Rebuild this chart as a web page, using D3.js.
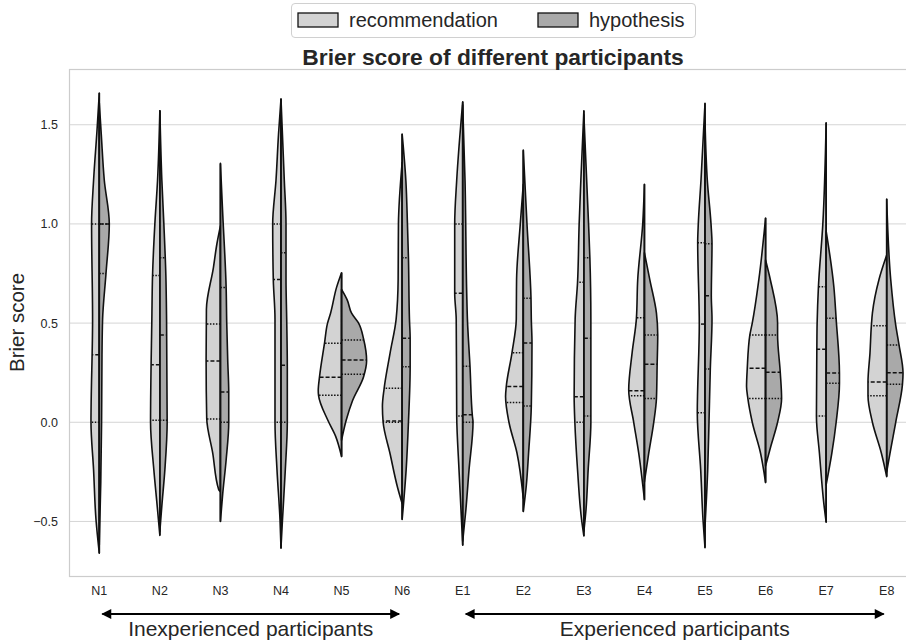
<!DOCTYPE html>
<html><head><meta charset="utf-8">
<script src="https://cdn.jsdelivr.net/npm/d3@7"></script>
<style>body{margin:0;background:#fff;} svg{display:block;font-family:"Liberation Sans",Arial,sans-serif;}</style>
</head><body>
<svg id="chart" width="906" height="641"></svg>
<script>
const categories = ["N1","N2","N3","N4","N5","N6","E1","E2","E3","E4","E5","E6","E7","E8"];
const seriesNames = ["recommendation","hypothesis"];
const seriesColors = ["#d3d3d3","#a9a9a9"];
const yTicks = [-0.5, 0.0, 0.5, 1.0, 1.5];

// density profiles: [score, density]
const recProfiles = [
  [[1.66,0],[1.47,2.3],[1.22,5.7],[1.0,7.7],[0.52,6.7],[0.0,8.3],[-0.24,5.7],[-0.49,3.3],[-0.66,0]],
  [[1.57,0],[1.22,2.3],[1.0,5],[0.74,7.3],[0.52,8],[0.0,9.3],[-0.24,6],[-0.42,2.7],[-0.57,0]],
  [[0.99,0],[0.9,3.5],[0.78,7],[0.57,14],[0.31,14.3],[0.02,13.7],[-0.155,7.7],[-0.34,1.7],[-0.35,0]],
  [[1.63,0],[1.45,2.5],[1.22,5],[1.0,8.3],[0.72,7.7],[0.52,6],[0.0,6],[-0.24,4],[-0.49,1],[-0.635,0]],
  [[0.754,0],[0.68,5],[0.55,11],[0.5,14],[0.4,17],[0.23,22],[0.16,23.3],[0.136,23],[0.01,13.7],[-0.07,6],[-0.173,0]],
  [[1.31,0],[1.0,3.7],[0.72,4],[0.52,6],[0.35,12],[0.17,18],[0.08,19.7],[0.0,19],[-0.16,12],[-0.33,4.5],[-0.41,0]],
  [[1.616,0],[1.22,6],[1.0,8],[0.65,8],[0.52,6.5],[0.03,6],[-0.24,3.7],[-0.62,0]],
  [[1.2,0],[1.0,3],[0.72,6.7],[0.52,7],[0.35,11.3],[0.18,17],[0.13,17.7],[0.0,14.3],[-0.155,6.3],[-0.383,0]],
  [[1.57,0],[1.22,3],[1.0,4.7],[0.706,6.3],[0.52,8.7],[0.13,9.7],[0.0,9],[-0.24,6.3],[-0.49,2.3],[-0.573,0]],
  [[1.2,0],[1.0,1.7],[0.72,6.7],[0.524,8],[0.35,12.3],[0.163,15.7],[0.0,10.7],[-0.156,5.7],[-0.39,0]],
  [[1.608,0],[1.22,4],[1.0,6.7],[0.905,7.3],[0.495,5.7],[0.048,7.7],[-0.24,4.3],[-0.49,2],[-0.632,0]],
  [[1.03,0],[0.72,6.7],[0.5,13.3],[0.44,15.7],[0.27,18.3],[0.18,19],[0.12,17.7],[0.0,13.3],[-0.156,5],[-0.304,0]],
  [[1.51,0],[1.0,3.3],[0.683,7.7],[0.5,9],[0.368,9.3],[0.032,9.7],[-0.156,6.7],[-0.41,2.3],[-0.504,0]],
  [[0.843,0],[0.72,7.7],[0.55,14.3],[0.49,15.3],[0.35,16.7],[0.203,18.7],[0.134,18.7],[0.0,14.3],[-0.156,5.3],[-0.274,0]]
];
const hypProfiles = [
  [[1.61,0],[1.45,2],[1.22,5],[1.0,10],[0.75,6.7],[0.52,3.3],[0.34,2.7],[0.0,2.3],[-0.3,1.5],[-0.62,0]],
  [[1.57,0],[1.22,2],[1.0,4],[0.74,6],[0.52,6.7],[0.0,7.3],[-0.24,5],[-0.42,2],[-0.55,0]],
  [[1.305,0],[1.05,2.3],[0.68,5.7],[0.5,6.3],[0.31,7.3],[0.15,8.3],[0.0,8.3],[-0.19,5.7],[-0.36,2.3],[-0.5,0]],
  [[1.63,0],[1.22,3.3],[1.0,5],[0.72,5],[0.52,5.7],[0.28,6.3],[0.0,6.3],[-0.24,4.3],[-0.49,1.5],[-0.63,0]],
  [[0.67,0],[0.616,5.7],[0.55,10],[0.5,17],[0.42,22],[0.31,25],[0.23,22],[0.11,11],[0.01,4.6],[-0.09,0]],
  [[1.453,0],[1.22,3.7],[1.0,5.3],[0.83,6.3],[0.52,7.3],[0.42,8],[0.28,8],[0.0,6.3],[-0.24,4],[-0.49,0]],
  [[1.6,0],[1.22,2.3],[0.65,4],[0.52,4.7],[0.28,7.3],[0.03,9.7],[0.0,10.3],[-0.24,6.3],[-0.45,3],[-0.6,0]],
  [[1.372,0],[1.0,3.7],[0.625,7.7],[0.52,8],[0.4,8.7],[0.08,8],[-0.155,5.3],[-0.32,3],[-0.45,0]],
  [[1.55,0],[1.0,4.7],[0.83,6],[0.52,7],[0.0,7],[-0.24,4.3],[-0.45,2],[-0.55,0]],
  [[0.855,0],[0.72,5.3],[0.55,12],[0.44,13.3],[0.29,12.7],[0.12,12],[0.0,9.3],[-0.156,4.3],[-0.3,0]],
  [[1.52,0],[1.22,2.3],[1.0,6],[0.9,7],[0.638,6.3],[0.52,7],[0.27,5.3],[0.0,4],[-0.24,2.7],[-0.526,0]],
  [[0.818,0],[0.72,4.7],[0.5,12],[0.44,12],[0.25,14.7],[0.12,16],[0.0,12],[-0.12,5.3],[-0.22,0]],
  [[0.964,0],[0.683,7.7],[0.52,10],[0.247,13.3],[0.197,13.3],[0.0,10],[-0.156,5.7],[-0.316,0]],
  [[1.125,0],[0.72,4],[0.49,9],[0.39,12.3],[0.247,16.3],[0.19,15.7],[0.0,9],[-0.156,3.3],[-0.25,0]]
];
// quartiles [q1, median, q3]
const recQuartiles = [[0,0.34,1.0],[0.01,0.29,0.74],[0.017,0.309,0.495],[0,0.72,1.0],[0.136,0.227,0.398],[0,0.006,0.171],[0.032,0.65,1.0],[0.1,0.18,0.35],[0,0.129,0.706],[0.134,0.159,0.527],[0.048,0.495,0.905],[0.12,0.272,0.44],[0.032,0.368,0.683],[0.134,0.203,0.487]];
const hypQuartiles = [[0.75,1.0,1.0],[0.01,0.44,0.83],[0,0.153,0.68],[0,0.287,0.855],[0.242,0.314,0.415],[0.28,0.423,0.83],[0,0.038,0.282],[0.082,0.4,0.625],[0.032,0.423,0.83],[0.12,0.292,0.44],[0.269,0.638,0.9],[0.12,0.252,0.44],[0.197,0.248,0.524],[0.192,0.25,0.39]];
const groups = [{label:"Inexperienced participants", from:0.05, to:4.95, mid:2.5},
                {label:"Experienced participants", from:6.05, to:12.95, mid:9.5}];

const svg = d3.select("#chart");
const L = 69, R = 917, T = 69, B = 576;
const x = d3.scaleBand().domain(categories).range([L, R]).paddingInner(0).paddingOuter(0);
const xi = d3.scaleLinear().domain([-0.5, categories.length - 0.5]).range([L, R]);
const y = d3.scaleLinear().domain([-0.775, 1.781]).range([B, T]);
const w = d3.scaleLinear().domain([0, 30]).range([0, 30 * x.bandwidth() / 60.5]);
const FONT = '"Liberation Sans",Arial,sans-serif';
const TXT = "#262626";

// grid
svg.append("g").selectAll("line").data(yTicks).join("line")
  .attr("x1", L).attr("x2", R).attr("y1", d => y(d)).attr("y2", d => y(d))
  .attr("stroke", "#d5d5d5").attr("stroke-width", 1);
// frame
svg.append("rect").attr("x", L + 0.5).attr("y", T + 0.5).attr("width", R - L).attr("height", B - T)
  .attr("fill", "none").attr("stroke", "#cccccc").attr("stroke-width", 1.2);

// axes labels
const yAxis = d3.axisLeft(y).tickValues(yTicks).tickSize(0).tickPadding(11)
  .tickFormat(d => d3.format(".1f")(d).replace("-", "\u2212"));
const gy = svg.append("g").attr("transform", `translate(${L},0)`).call(yAxis);
gy.select(".domain").remove();
gy.selectAll("text").attr("font-size", 12.5).attr("fill", TXT).attr("font-family", FONT);

const xAxis = d3.axisBottom(x).tickSize(0).tickPadding(10);
const gx = svg.append("g").attr("transform", `translate(0,${B})`).call(xAxis);
gx.select(".domain").remove();
gx.selectAll("text").attr("font-size", 12.5).attr("fill", TXT).attr("font-family", FONT);

function widthAt(profile, v) {
  for (let i = 0; i < profile.length - 1; i++) {
    const a = profile[i], b = profile[i + 1];
    if (v <= a[0] && v >= b[0]) {
      const t = (a[0] - v) / (a[0] - b[0]);
      return a[1] + t * (b[1] - a[1]);
    }
  }
  return 0;
}

const g = svg.append("g");
categories.forEach((c, i) => {
  const cx = x(c) + x.bandwidth() / 2;
  [[recProfiles[i], -1, seriesColors[0], recQuartiles[i]], [hypProfiles[i], 1, seriesColors[1], hypQuartiles[i]]]
  .forEach(([prof, dir, col, q]) => {
    const area = d3.area().curve(d3.curveMonotoneY)
      .y(d => y(d[0])).x0(cx).x1(d => cx + dir * w(d[1]));
    g.append("path").datum(prof).attr("d", area)
      .attr("fill", col).attr("stroke", "#111").attr("stroke-width", 1.6).attr("stroke-linejoin", "round");
    q.forEach((v, k) => {
      const hw = w(widthAt(prof, v));
      g.append("line").attr("x1", cx).attr("x2", cx + dir * hw)
        .attr("y1", y(v)).attr("y2", y(v))
        .attr("stroke", "#111").attr("stroke-width", 1.5)
        .attr("stroke-dasharray", k === 1 ? "4,2" : "1.5,1.5");
    });
  });
  g.append("line").attr("x1", cx).attr("x2", cx)
    .attr("y1", y(Math.max(recProfiles[i][0][0], hypProfiles[i][0][0])))
    .attr("y2", y(Math.min(recProfiles[i][recProfiles[i].length-1][0], hypProfiles[i][hypProfiles[i].length-1][0])))
    .attr("stroke", "#111").attr("stroke-width", 1.6);
});

// title
svg.append("text").attr("x", (L + R) / 2).attr("y", 65).attr("text-anchor", "middle")
  .attr("font-size", 22.8).attr("font-weight", "bold").attr("fill", TXT)
  .text("Brier score of different participants");
// y label
svg.append("text").attr("transform", `translate(24,${(T + B) / 2}) rotate(-90)`).attr("text-anchor", "middle")
  .attr("font-size", 20.5).attr("fill", TXT).text("Brier score");

// legend
const lg = svg.append("g");
lg.append("rect").attr("x", 291.5).attr("y", 3.5).attr("width", 404).attr("height", 34).attr("rx", 3.5)
  .attr("fill", "#fff").attr("stroke", "#d0d0d0");
const legendX = [298, 538];
seriesNames.forEach((s, k) => {
  lg.append("rect").attr("x", legendX[k]).attr("y", 13).attr("width", 40).attr("height", 14)
    .attr("fill", seriesColors[k]).attr("stroke", "#111").attr("stroke-width", 1.3);
  lg.append("text").attr("x", legendX[k] + 51).attr("y", 27).attr("font-size", 20).attr("fill", TXT).text(s);
});

// group arrows
const defs = svg.append("defs");
defs.append("marker").attr("id", "ah").attr("viewBox", "0 0 10 10").attr("refX", 9).attr("refY", 5)
  .attr("markerWidth", 5).attr("markerHeight", 4.5).attr("orient", "auto-start-reverse")
  .append("path").attr("d", "M0,0 L10,5 L0,10 Z").attr("fill", "#000");
groups.forEach(gr => {
  svg.append("line").attr("x1", xi(gr.from)).attr("x2", xi(gr.to)).attr("y1", 614).attr("y2", 614)
    .attr("stroke", "#000").attr("stroke-width", 2.2)
    .attr("marker-start", "url(#ah)").attr("marker-end", "url(#ah)");
  svg.append("text").attr("x", xi(gr.mid)).attr("y", 636).attr("text-anchor", "middle")
    .attr("font-size", 21).attr("fill", TXT).text(gr.label);
});
</script>
</body></html>
